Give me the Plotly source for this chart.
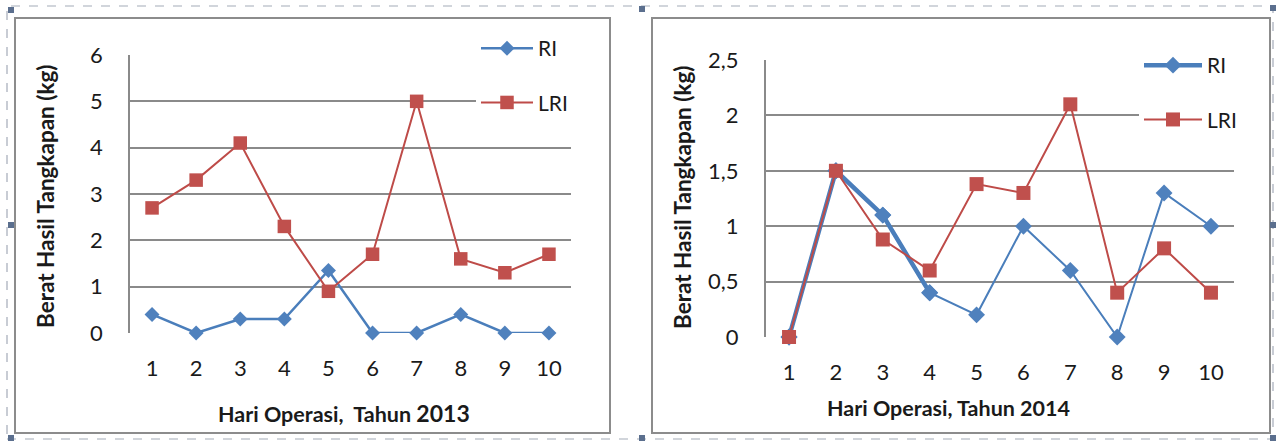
import plotly.graph_objects as go

# ---------------- data ----------------
days = [1, 2, 3, 4, 5, 6, 7, 8, 9, 10]
day_labels = ["1", "2", "3", "4", "5", "6", "7", "8", "9", "10"]

ri_2013 = [0.4, 0.0, 0.3, 0.3, 1.35, 0.0, 0.0, 0.4, 0.0, 0.0]
lri_2013 = [2.7, 3.3, 4.1, 2.3, 0.9, 1.7, 5.0, 1.6, 1.3, 1.7]

ri_2014 = [0.0, 1.5, 1.1, 0.4, 0.2, 1.0, 0.6, 0.0, 1.3, 1.0]
lri_2014 = [0.0, 1.5, 0.88, 0.6, 1.38, 1.3, 2.1, 0.4, 0.8, 0.4]

yticks_2013 = [0, 1, 2, 3, 4, 5, 6]
ytext_2013 = ["0", "1", "2", "3", "4", "5", "6"]
yticks_2014 = [0, 0.5, 1, 1.5, 2, 2.5]
ytext_2014 = ["0", "0,5", "1", "1,5", "2", "2,5"]

series_names = ["RI", "LRI"]
y_title = "Berat Hasil Tangkapan (kg)"
x_title_2013 = "Hari Operasi,&nbsp;&nbsp;Tahun <span style='font-size:23px'>2013</span>"
x_title_2014 = "Hari Operasi, Tahun 2014"

# ---------------- style ----------------
W, H = 1276, 441
FONT = "Lato"
BLUE_LINE = "#4A7EBB"
BLUE_MARK = "#4F81BD"
RED_LINE = "#BE4B48"
RED_MARK = "#C0504D"
GRID = "#8A8A8A"
TXT = "#1a1a1a"


def px(x):
    return x / W


def py(y):
    return 1 - y / H


fig = go.Figure()

# left chart (2013)
fig.add_trace(go.Scatter(
    x=days, y=ri_2013, name=series_names[0], mode="lines+markers",
    line=dict(color=BLUE_LINE, width=2.5),
    marker=dict(symbol="diamond", size=11.5, color=BLUE_MARK, line=dict(width=0)),
    xaxis="x", yaxis="y", legend="legend", legendgroup="a1", cliponaxis=False))
fig.add_trace(go.Scatter(
    x=days, y=lri_2013, name=series_names[1], mode="lines+markers",
    line=dict(color=RED_LINE, width=2),
    marker=dict(symbol="square", size=13.5, color=RED_MARK, line=dict(width=0)),
    xaxis="x", yaxis="y", legend="legend", legendgroup="a2", cliponaxis=False))

# right chart (2014)
fig.add_trace(go.Scatter(
    x=days, y=ri_2014, name=series_names[0], mode="lines+markers",
    line=dict(color=BLUE_LINE, width=2),
    marker=dict(symbol="diamond", size=13, color=BLUE_MARK, line=dict(width=0)),
    xaxis="x2", yaxis="y2", showlegend=False, cliponaxis=False))
fig.add_trace(go.Scatter(
    x=days[:4], y=ri_2014[:4], name=series_names[0], mode="lines+markers",
    line=dict(color=BLUE_LINE, width=4.5),
    marker=dict(symbol="diamond", size=13, color=BLUE_MARK, line=dict(width=0)),
    xaxis="x2", yaxis="y2", legend="legend2", legendgroup="b1", cliponaxis=False))
fig.add_trace(go.Scatter(
    x=days, y=lri_2014, name=series_names[1], mode="lines+markers",
    line=dict(color=RED_LINE, width=2),
    marker=dict(symbol="square", size=14, color=RED_MARK, line=dict(width=0)),
    xaxis="x2", yaxis="y2", legend="legend2", legendgroup="b2", cliponaxis=False))

xaxis_common = dict(
    tickvals=days, ticktext=day_labels, showgrid=False, zeroline=False,
    showline=False, ticks="", ticklabelstandoff=20,
    tickfont=dict(family=FONT, size=22, color=TXT), fixedrange=True)
yaxis_common = dict(
    showgrid=True, gridcolor=GRID, gridwidth=1.5, zeroline=False,
    showline=True, linecolor=GRID, linewidth=1.5, ticks="",
    ticklabelstandoff=21, tickfont=dict(family=FONT, size=22, color=TXT),
    fixedrange=True)

legend_common = dict(
    bgcolor="white", borderwidth=0, font=dict(family=FONT, size=21, color=TXT),
    tracegroupgap=24, xanchor="left", yanchor="top",
    entrywidth=150, entrywidthmode="pixels",
    itemclick=False, itemdoubleclick=False)

fig.update_layout(
    width=W, height=H, margin=dict(l=0, r=0, t=0, b=0, autoexpand=False),
    paper_bgcolor="white", plot_bgcolor="white",
    separators=", ",
    xaxis=dict(domain=[px(130), px(571)], range=[0.5, 10.5], anchor="y", **xaxis_common),
    yaxis=dict(domain=[py(333), py(55)], range=[0, 6], anchor="x",
               tickvals=yticks_2013, ticktext=ytext_2013, **yaxis_common),
    xaxis2=dict(domain=[px(765.6), px(1234.4)], range=[0.5, 10.5], anchor="y2", **xaxis_common),
    yaxis2=dict(domain=[py(337), py(60)], range=[0, 2.5], anchor="x2",
                tickvals=yticks_2014, ticktext=ytext_2014, **yaxis_common),
    legend=dict(x=px(476), y=py(28), itemwidth=52, **legend_common),
    legend2=dict(x=px(1139), y=py(45), itemwidth=58, **legend_common),
    showlegend=True,
)

# axis titles
tfont = dict(family=FONT, size=22.5, color=TXT)
xfont = dict(family=FONT, size=21.5, color=TXT)
ann = [
    dict(text=f"<b>{y_title}</b>", x=px(45), y=py(196), textangle=-90, font=tfont),
    dict(text=f"<b>{y_title}</b>", x=px(682), y=py(197), textangle=-90, font=tfont),
    dict(text=f"<b>{x_title_2013}</b>", x=px(344), y=py(413), font=xfont),
    dict(text=f"<b>{x_title_2014}</b>", x=px(948), y=py(408), font=xfont),
]
for a in ann:
    a.update(xref="paper", yref="paper", xanchor="center", yanchor="middle", showarrow=False)
fig.update_layout(annotations=ann)

# frames: two chart boxes + outer dashed selection frame with handles
shapes = []
for (x0, y0, x1, y1) in [(15, 18, 610, 433), (652, 18, 1270, 433)]:
    shapes.append(dict(type="rect", xref="paper", yref="paper",
                       x0=px(x0), y0=py(y1), x1=px(x1), y1=py(y0),
                       line=dict(color="#8C8C8C", width=2), layer="below"))
shapes.append(dict(type="rect", xref="paper", yref="paper",
                   x0=px(7), y0=py(439), x1=px(1273), y1=py(6),
                   line=dict(color="#A4ABB8", width=1.2, dash="dash"), layer="below"))
for (hx, hy) in [(11, 10), (642, 9), (1273, 8), (11, 225), (1273, 225),
                 (11, 438), (642, 438), (1273, 438)]:
    shapes.append(dict(type="rect", xref="paper", yref="paper",
                       x0=px(hx - 3), y0=py(hy + 3), x1=px(hx + 3), y1=py(hy - 3),
                       fillcolor="#5B6F8E", line=dict(width=0), layer="above"))
fig.update_layout(shapes=shapes)

# remove the default 8px page margin so the figure sits at the window's corner
fig.write_html("out.html", config={"displayModeBar": False},
               post_script="document.body.style.margin='0';")
